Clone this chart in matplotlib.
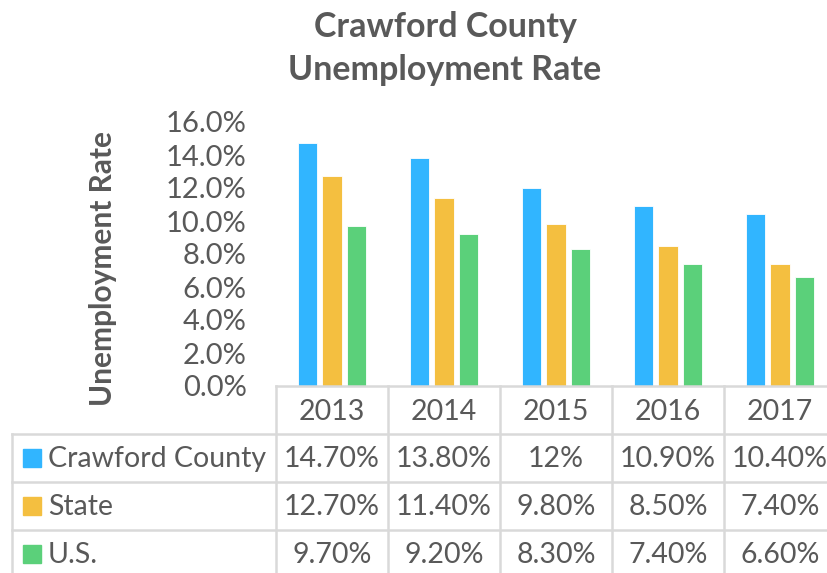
import matplotlib
matplotlib.use("Agg")
import matplotlib.pyplot as plt
from matplotlib.patches import Rectangle
from matplotlib.lines import Line2D
from matplotlib.ticker import FuncFormatter

years = ["2013", "2014", "2015", "2016", "2017"]
series_names = ["Crawford County", "State", "U.S."]
crawford = [14.7, 13.8, 12.0, 10.9, 10.4]
state = [12.7, 11.4, 9.8, 8.5, 7.4]
us = [9.7, 9.2, 8.3, 7.4, 6.6]
colors = ["#31B5FF", "#F4BF40", "#5BD07A"]

W, H = 828, 573
TXT = "#595959"
GRID = "#D9D9D9"
plt.rcParams["font.family"] = ["Lato", "DejaVu Sans"]

fig = plt.figure(figsize=(W / 100, H / 100), dpi=100)


def fx(px):
    return px / W


def fy(py):
    return 1 - py / H


# plot area in pixels
left, right = 276, 276 + 5 * 112
bottom, top = 386, 122
ax = fig.add_axes([fx(left), fy(bottom), fx(right) - fx(left), fy(top) - fy(bottom)])

values = [crawford, state, us]
step = 0.22
for i, vals in enumerate(values):
    xs = [j + (i - 1) * step for j in range(len(years))]
    ax.bar(xs, vals, width=0.175, color=colors[i], edgecolor="white", linewidth=0.6, zorder=2)

ax.set_xlim(-0.5, 4.5)
ax.set_ylim(0, 16)
ax.set_yticks(range(0, 17, 2))
ax.yaxis.set_major_formatter(FuncFormatter(lambda v, p: f"{v:.1f}%"))
ax.tick_params(axis="y", length=0, pad=21, labelsize=21, labelcolor=TXT)
ax.set_xticks([])
for s in ax.spines.values():
    s.set_visible(False)

fig.text(fx(103), fy(268), "Unemployment Rate", rotation=90, ha="center", va="center",
         fontsize=21.5, fontweight="bold", color=TXT)
fig.text(fx(445), fy(27), "Crawford County", ha="center", va="center",
         fontsize=24.5, fontweight="bold", color=TXT)
fig.text(fx(445), fy(70), "Unemployment Rate", ha="center", va="center",
         fontsize=24.5, fontweight="bold", color=TXT)

# data table
col_x = [276 + k * 112 for k in range(6)]
row_y = [386, 434, 482, 530, 578]


def hline(x0, x1, y):
    fig.add_artist(Line2D([fx(x0), fx(x1)], [fy(y), fy(y)], color=GRID, lw=1.8))


def vline(x, y0, y1):
    fig.add_artist(Line2D([fx(x), fx(x)], [fy(y0), fy(y1)], color=GRID, lw=1.8))


hline(276, 840, row_y[0])
for y in row_y[1:4]:
    hline(12, 840, y)
for x in col_x:
    vline(x, row_y[0], 580)
vline(12, row_y[1], 580)


def fmt(v):
    return f"{v:.0f}%" if v == int(v) else f"{v:.2f}%"


for k, yr in enumerate(years):
    fig.text(fx(col_x[k] + 56), fy((row_y[0] + row_y[1]) / 2 + 2), yr, ha="center", va="center",
             fontsize=20.5, color=TXT)

for r, (name, vals) in enumerate(zip(series_names, values)):
    yc = (row_y[r + 1] + row_y[r + 2]) / 2 + 1
    sq = yc - 1
    fig.add_artist(Rectangle((fx(23), fy(sq + 9)), fx(18), fy(sq - 9) - fy(sq + 9),
                             color=colors[r], transform=fig.transFigure))
    fig.text(fx(48), fy(yc), name, ha="left", va="center", fontsize=20.5, color=TXT)
    for k, v in enumerate(vals):
        fig.text(fx(col_x[k] + 56), fy(yc), fmt(v), ha="center", va="center",
                 fontsize=20.5, color=TXT)

fig.savefig("out.png", dpi=100)
